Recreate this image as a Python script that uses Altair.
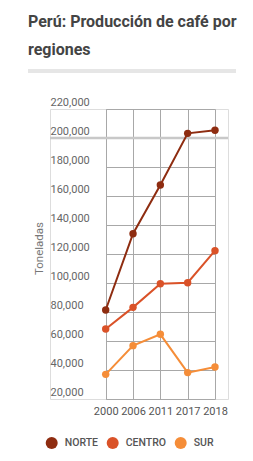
import altair as alt
import pandas as pd

years = ["2000", "2006", "2011", "2017", "2018"]
regions = ["NORTE", "CENTRO", "SUR"]
norte = [81400, 134000, 167600, 203200, 205300]
centro = [68300, 83200, 99500, 100200, 122300]
sur = [37000, 56800, 64600, 38200, 42100]
colors = ["#8e2c10", "#da5228", "#f58d38"]

rows = []
for reg, vals in zip(regions, [norte, centro, sur]):
    for y, v in zip(years, vals):
        rows.append({"year": y, "region": reg, "value": v})
df = pd.DataFrame(rows)

FONT = "Roboto"

x = alt.X("year:O", title=None,
          scale=alt.Scale(type="point", range=[55.7, 165], padding=0),
          axis=alt.Axis(labelAngle=0, labelColor="#555", labelFontSize=11,
                        labelFontWeight="normal", labelFont=FONT, ticks=False, tickSize=0,
                        domain=False, labelPadding=6, grid=True, gridColor="#a8a8a8",
                        gridWidth=1, labelOverlap=False))
y_axis = alt.Axis(values=list(range(20000, 220001, 20000)), format=",d",
                  labelAlign="left", labelBaseline="bottom", labelPadding=0,
                  ticks=False, tickSize=0, domain=False, labelOffset=-2,
                  labelColor="#666", labelFontSize=11, labelFont=FONT,
                  labelOverlap=False,
                  gridColor="#a8a8a8", gridWidth=1,
                  titleColor="#777", titleFont=FONT, titleFontSize=11.5,
                  titleFontWeight="normal", titleAngle=-90,
                  titleX=-11, titleY=139, titleAlign="center",
                  titleBaseline="middle")
y_scale = alt.Scale(domain=[20000, 220000], nice=False, zero=False)
y = alt.Y("value:Q", title="Toneladas", scale=y_scale, axis=y_axis)

lines = alt.Chart(df).mark_line(strokeWidth=2).encode(
    x=x, y=y,
    color=alt.Color("region:N", scale=alt.Scale(domain=regions, range=colors), legend=None),
    detail="region:N",
)
points = alt.Chart(df).mark_point(filled=True, size=55, opacity=1).encode(
    x=x, y=y,
    color=alt.Color("region:N", scale=alt.Scale(domain=regions, range=colors),
                    legend=alt.Legend(title=None, orient="none", direction="horizontal",
                                      legendX=-4.3, legendY=328, symbolType="circle",
                                      symbolSize=144, symbolOpacity=1, symbolStrokeWidth=0,
                                      labelFont=FONT, labelFontSize=10.5, labelFontWeight=500,
                                      labelColor="#555", labelOffset=7, columnPadding=8,
                                      padding=0)),
)

highlight = alt.Chart(pd.DataFrame({"value": [200000]})).mark_rule(
    color="#c8c8c8", strokeWidth=2.5).encode(y=y)

bar = alt.Chart(pd.DataFrame({"a": [0]})).mark_rule(color="#e6e6e6", strokeWidth=4).encode(
    x=alt.value(-22), x2=alt.value(186), y=alt.value(-38))

chart = alt.layer(highlight, bar, lines, points).resolve_scale(
    color="independent"
).properties(
    width=178, height=290,
    title=alt.TitleParams(text=["Perú: Producción de café por", "regiones"],
                          anchor="start", frame="group", dx=-22, offset=11,
                          font=FONT, fontSize=16, fontWeight="bold", color="#444",
                          lineHeight=28),
    padding={"left": 50, "top": 109, "right": 25, "bottom": 62},
    autosize=alt.AutoSizeParams(type="none"),
).configure_view(stroke=None).configure(background="white")

chart.save("out.html", embed_options={"renderer": "svg", "actions": False})
